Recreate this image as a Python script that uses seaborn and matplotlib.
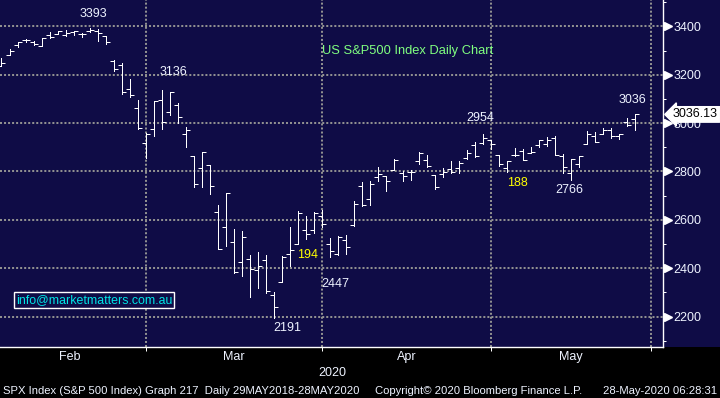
import numpy as np
import pandas as pd
import matplotlib
matplotlib.use('Agg')
import matplotlib.pyplot as plt
import matplotlib.transforms as mtransforms
from matplotlib.patches import Rectangle
from matplotlib import font_manager
import seaborn as sns

# trading calendar (US holidays inside the window)
holidays = ['2020-02-17', '2020-04-10', '2020-05-25']
dates = pd.bdate_range('2020-02-03', '2020-05-27', freq='C', holidays=holidays)

opens = [3235.66, 3280.61, 3324.91, 3344.92, 3335.54, 3318.28, 3365.87, 3370.50, 3365.90, 3378.08,
         3369.04, 3380.39, 3380.45, 3360.50, 3257.61, 3238.94, 3139.90, 3062.54, 2916.90,
         2974.28, 3096.46, 3045.75, 3075.70, 2954.20, 2863.89, 2813.48, 2825.60, 2630.86, 2569.99,
         2508.59, 2425.66, 2436.50, 2393.48, 2431.94, 2290.71, 2344.44, 2457.77, 2501.29, 2555.87,
         2558.98, 2614.69,
         2498.08, 2458.54, 2514.92, 2578.28, 2738.65, 2685.00, 2776.99, 2782.46, 2805.10, 2795.64,
         2799.34, 2842.43, 2845.62, 2784.81, 2787.89, 2810.42, 2812.64, 2854.65, 2909.96, 2918.46,
         2930.91,
         2869.09, 2815.01, 2868.88, 2883.14, 2878.26, 2908.83, 2915.46, 2939.50, 2865.86, 2794.54,
         2829.95, 2913.86, 2948.59, 2953.63, 2969.95, 2948.05, 3004.08, 3015.65]
highs = [3268.44, 3306.92, 3337.58, 3347.96, 3341.42, 3352.26, 3375.63, 3381.47, 3385.09, 3380.69,
         3375.01, 3393.52, 3389.15, 3360.76, 3259.81, 3246.99, 3182.51, 3097.07, 2959.72,
         3090.96, 3136.72, 3130.97, 3083.04, 2985.93, 2863.89, 2882.59, 2825.60, 2660.95, 2711.33,
         2562.98, 2553.93, 2453.57, 2466.97, 2453.01, 2300.73, 2449.71, 2571.42, 2637.01, 2615.91,
         2631.80, 2641.39,
         2522.75, 2533.22, 2538.18, 2676.85, 2756.89, 2760.75, 2818.57, 2782.46, 2851.85, 2801.88,
         2806.51, 2879.22, 2868.98, 2785.54, 2815.10, 2844.90, 2842.71, 2887.72, 2921.15, 2954.86,
         2930.91,
         2869.09, 2844.24, 2898.23, 2891.11, 2901.92, 2932.16, 2944.25, 2945.82, 2874.14, 2852.80,
         2865.01, 2968.09, 2964.21, 2980.29, 2978.50, 2956.76, 3021.72, 3036.25]
lows = [3235.66, 3280.61, 3313.75, 3334.39, 3322.12, 3317.77, 3352.72, 3369.72, 3360.52, 3366.15,
        3355.61, 3378.83, 3341.02, 3328.45, 3214.65, 3118.77, 3108.99, 2977.39, 2855.84,
        2945.19, 2976.63, 3034.38, 2999.83, 2901.54, 2734.43, 2734.00, 2707.22, 2478.86, 2492.37,
        2380.94, 2367.04, 2280.52, 2319.78, 2295.56, 2191.86, 2344.44, 2407.53, 2500.72, 2520.02,
        2545.28, 2571.15,
        2447.49, 2455.79, 2459.96, 2574.57, 2657.67, 2663.30, 2762.36, 2721.17, 2805.10, 2761.54,
        2764.32, 2830.88, 2820.43, 2727.10, 2775.95, 2794.26, 2791.76, 2852.89, 2860.71, 2912.16,
        2892.47,
        2821.61, 2797.85, 2863.55, 2847.65, 2876.48, 2902.88, 2903.44, 2869.59, 2793.15, 2766.64,
        2816.78, 2913.86, 2922.35, 2953.63, 2938.57, 2933.59, 2988.17, 2969.75]
closes = [3248.92, 3297.59, 3334.69, 3345.78, 3327.71, 3352.09, 3357.75, 3379.45, 3373.94, 3380.16,
          3370.29, 3386.15, 3373.23, 3337.75, 3225.89, 3128.21, 3116.39, 2978.76, 2954.22,
          3090.23, 3003.37, 3130.12, 3023.94, 2972.37, 2746.56, 2882.23, 2741.38, 2480.64, 2711.02,
          2386.13, 2529.19, 2398.10, 2409.39, 2304.92, 2237.40, 2447.33, 2475.56, 2630.07, 2541.47,
          2626.65, 2584.59,
          2470.50, 2526.90, 2488.65, 2663.68, 2659.41, 2749.98, 2789.82, 2761.63, 2846.06, 2783.36,
          2799.55, 2874.56, 2823.16, 2736.56, 2799.31, 2797.80, 2836.74, 2878.48, 2863.39, 2939.51,
          2912.43,
          2830.71, 2842.74, 2868.44, 2848.42, 2881.19, 2929.80, 2930.32, 2870.12, 2820.00, 2852.50,
          2863.70, 2953.91, 2922.94, 2971.61, 2948.51, 2955.45, 2991.77, 3036.13]

month_ends = ['2020-01-31', '2020-02-28', '2020-03-31', '2020-04-30', '2020-05-29']
month_names = ['Feb', 'Mar', 'Apr', 'May']
price_ticks = [2200, 2400, 2600, 2800, 3000, 3200, 3400]
price_minor = [2100, 2300, 2500, 2700, 2900, 3100, 3300, 3500]

# text callouts: label, x (trading day), y (price), colour
callouts = [
    ('3393', 11.5, 3452, 'w'),
    ('3136', 21.5, 3212, 'w'),
    ('2191', 35.6, 2153, 'w'),
    ('194', 38.2, 2455, 'y'),
    ('2447', 41.6, 2335, 'w'),
    ('2954', 59.7, 3021, 'w'),
    ('188', 64.3, 2752, 'y'),
    ('2766', 70.8, 2724, 'w'),
    ('3036', 78.7, 3096, 'w'),
]

NAVY = '#0f0c46'
WHITE = '#eef3ff'
W, H = 720, 398
PX = 0.72  # one pixel in points

sns.set_style('dark', rc={'axes.facecolor': NAVY, 'figure.facecolor': 'black'})
plt.rcParams['font.family'] = ['Liberation Sans', 'DejaVu Sans']

installed = {f.name for f in font_manager.fontManager.ttflist}
if 'Liberation Sans Narrow' in installed:
    foot_font, foot_size = ['Liberation Sans Narrow', 'DejaVu Sans'], 9
else:
    foot_font, foot_size = ['Liberation Sans', 'DejaVu Sans'], 8.1

fig = plt.figure(figsize=(W / 100, H / 100), dpi=100)
ax = fig.add_axes([0, 51 / H, 663 / W, 347 / H])
fig.add_artist(Rectangle((663 / W, 51 / H), 57 / W, 347 / H, transform=fig.transFigure,
                         facecolor=NAVY, edgecolor='none', zorder=0))

pos = np.arange(len(dates))
start = dates[0].strftime('%Y-%m-%d')
bounds = np.busday_count(start, month_ends, holidays=holidays)

df = pd.DataFrame({'pos': pos, 'open': opens, 'high': highs, 'low': lows, 'close': closes})

ax.vlines(df['pos'], df['low'], df['high'], color='white', linewidth=PX, antialiased=False, zorder=3)
sns.scatterplot(data=df, x='pos', y='open', marker=0, s=7, color='white', linewidth=PX,
                antialiased=False, ax=ax, zorder=3)
sns.scatterplot(data=df, x='pos', y='close', marker=1, s=7, color='white', linewidth=PX,
                antialiased=False, ax=ax, zorder=3)

ax.set_xlim(-0.187, 82.48)
ax.set_ylim(2073.8, 3509.6)
ax.set_xlabel('')
ax.set_ylabel('')

# x axis: month boundaries as ticks, names in between
ax.set_xticks(bounds[1:])
ax.set_xticklabels([''] * (len(bounds) - 1))
ax.set_xticks((bounds[:-1] + bounds[1:]) / 2, minor=True)
ax.set_xticklabels(month_names, minor=True)
ax.tick_params(axis='x', which='major', length=3, width=PX, color='white', direction='out', bottom=True)
ax.tick_params(axis='x', which='minor', length=0, pad=3, labelsize=9, labelcolor=WHITE, bottom=True)

# y axis on the right
ax.yaxis.tick_right()
ax.set_yticks(price_ticks)
ax.set_yticks(price_minor, minor=True)
ax.tick_params(axis='y', which='major', length=0, pad=7.3, labelsize=9, labelcolor=WHITE,
               right=True, left=False)
ax.tick_params(axis='y', which='minor', length=2.3, width=PX, color='white', direction='out',
               right=True, left=False)
blend = mtransforms.blended_transform_factory(ax.transAxes, ax.transData)
ax.plot([1 + 5 / 663] * len(price_ticks), price_ticks, marker='>', ms=5.5, color='white',
        linestyle='none', transform=blend, clip_on=False)

ax.grid(True, which='major', color='#909090', linestyle=(0, (1, 1)), linewidth=1.45)
ax.grid(False, which='minor')
for side in ['left', 'top']:
    ax.spines[side].set_visible(False)
for side in ['bottom', 'right']:
    ax.spines[side].set_visible(True)
    ax.spines[side].set_color('white')
    ax.spines[side].set_linewidth(1.0)

for label, x, y, c in callouts:
    ax.text(x, y, label, color=WHITE if c == 'w' else '#ffff00', fontsize=9,
            ha='center', va='center', zorder=4)

ax.text(50.6, 3299, 'US S&P500 Index Daily Chart', color='#80ff80', fontsize=9.3,
        ha='center', va='center')

# last price tag, drawn over the 3000 label as in the terminal
ax.text(1 + 10 / 663, closes[-1], f'{closes[-1]:.2f}', transform=blend, color='black', fontsize=9,
        ha='left', va='center', clip_on=False, zorder=6,
        bbox=dict(boxstyle='larrow,pad=0.14', facecolor='white', edgecolor='white'))

fig.text(94 / W, 1 - 300 / H, 'info@marketmatters.com.au', color='#00e5e5', fontsize=8.9,
         ha='center', va='center',
         bbox=dict(boxstyle='square,pad=0.15', facecolor=NAVY, edgecolor='white', linewidth=1.0))

fig.text(332 / W, 1 - 373 / H, '2020', color=WHITE, fontsize=9, ha='center', va='center')
fig.text(3 / W, 1 - 391 / H, 'SPX Index (S&P 500 Index) Graph 217  Daily 29MAY2018-28MAY2020',
         color=WHITE, fontsize=foot_size, family=foot_font, ha='left', va='center')
fig.text(375 / W, 1 - 391 / H, 'Copyright\u00a9 2020 Bloomberg Finance L.P.',
         color=WHITE, fontsize=foot_size, family=foot_font, ha='left', va='center')
fig.text(717 / W, 1 - 391 / H, '28-May-2020 06:28:31',
         color=WHITE, fontsize=foot_size, family=foot_font, ha='right', va='center')

fig.savefig('out.png', dpi=100, facecolor='black')
